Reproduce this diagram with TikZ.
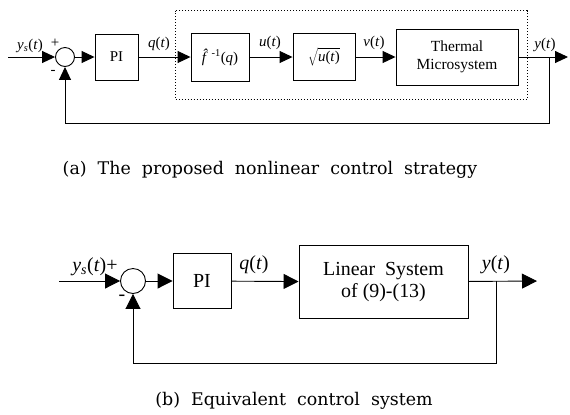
\documentclass[tikz,border=0pt]{standalone}
\usepackage{fontspec}
\setmainfont{Liberation Serif}
\newfontfamily\capfont{DejaVu Serif}
\usetikzlibrary{arrows.meta,positioning}
\newcommand{\sg}[1]{\textit{#1}(\textit{t})}
\newcommand{\capfmt}{\capfont\fontsize{17.5}{20}\selectfont\spaceskip=11bp\relax}

\begin{document}
\begin{tikzpicture}[x=1bp,y=-1bp,line width=0.9bp,
  blk/.style={draw,minimum width=#1,inner sep=0pt},
  sumj/.style={draw,circle,inner sep=0pt,minimum size=#1},
  lbl/.style={inner sep=0pt},
  capt/.style={font=\capfmt},
  tipa/.style={-{Triangle[length=13bp,width=12bp]}},
  tipb/.style={-{Triangle[length=15bp,width=15bp]}}]
\useasboundingbox (0,0) rectangle (570,414);
% (a) nonlinear strategy
\begin{scope}[font=\fontsize{15}{17}\selectfont]
\coordinate (ina) at (8,57);
\node[sumj=19bp] (suma) at (65,57) {};
\node[blk=43bp,minimum height=46bp] (pia) at (116.5,57) {PI};
\node[blk=58bp,minimum height=48bp] (finv) at (220,57) {\textit{\^f}\textsuperscript{-1}(\textit{q})};
\node[blk=62bp,minimum height=47bp] (sqr) at (324,57) {\large$\sqrt{\mbox{\fontsize{15}{17}\selectfont\sg{u}}}$};
\node[blk=122bp,minimum height=56bp,align=center,font=\fontsize{15.5}{18}\selectfont] (therm) at (457,57) {Thermal\\Microsystem};
\draw[dotted,line width=1bp] (175,10.5) rectangle (527,99.5);
\coordinate (bra) at (549,57);
\coordinate (outa) at (568,57);
\draw[tipa] (ina) -- (suma);
\draw[tipa] (suma) -- (pia);
\draw[tipa] (pia) -- (finv);
\draw[tipa] (finv) -- (sqr);
\draw[tipa] (sqr) -- (therm);
\draw[tipa] (therm) -- (outa);
\draw[tipa] (bra) |- (65,123) -- (suma);
\node[lbl] (ysa) at (30,46) {\textit{y}\textsubscript{\textit{s}}(\textit{t})};
\node[lbl] (pla) at (55,43) {+};
\node[lbl] (mia) at (53,72) {-};
\node[lbl] (qa) at (159,44) {\sg{q}};
\node[lbl] (ua) at (270,43) {\sg{u}};
\node[lbl] (va) at (374,43) {\sg{v}};
\node[lbl] (ya) at (545,45) {\sg{y}};
\end{scope}
\node[capt] (capa) at (270,170) {(a) The proposed nonlinear control strategy};
% (b) equivalent system
\begin{scope}[font=\fontsize{20}{23}\selectfont]
\coordinate (inb) at (59,281);
\node[sumj=25bp] (sumb) at (133,281) {};
\node[blk=58bp,minimum height=55bp] (pib) at (202,281) {PI};
\node[blk=169bp,minimum height=73bp,align=center] (lin) at (383.5,282) {Linear~~System\\of (9)-(13)};
\coordinate (brb) at (496,281);
\coordinate (outb) at (537,281);
\draw[tipb] (inb) -- (sumb);
\draw[tipb] (sumb) -- (pib);
\draw[tipb] (pib) -- (lin);
\draw[tipb] (lin) -- (outb);
\draw[tipb] (brb) |- (133,363) -- (sumb);
\node[lbl] (ysb) at (95,267) {\textit{y\textsubscript{s}}(\textit{t})+};
\node[lbl] (mib) at (122,298) {-};
\node[lbl] (qb) at (254,265) {\sg{q}};
\node[lbl] (yb) at (496,265) {\sg{y}};
\end{scope}
\node[capt] (capb) at (294,401) {(b) Equivalent control system};
\end{tikzpicture}
\end{document}
